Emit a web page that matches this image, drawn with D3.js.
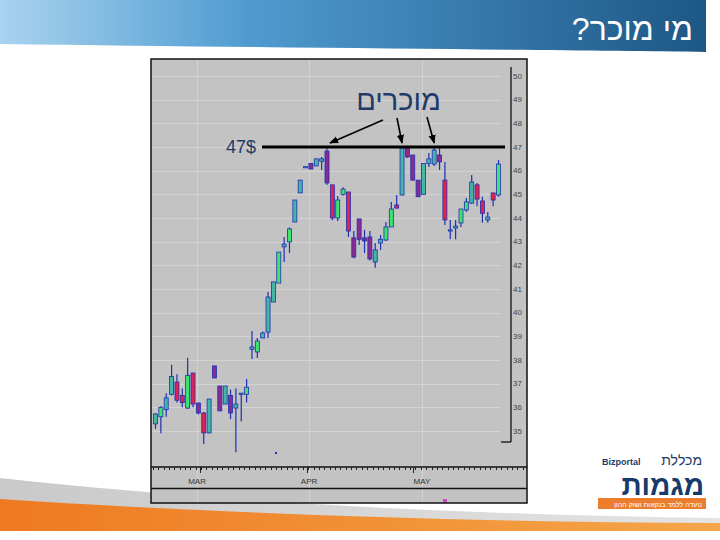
<!DOCTYPE html>
<html><head><meta charset="utf-8">
<script src="https://cdn.jsdelivr.net/npm/d3@7"></script>
<style>body{margin:0;background:#fff;} svg{display:block;font-family:"Liberation Sans",Arial,"DejaVu Sans",sans-serif;}</style>
</head><body><svg id="c" width="720" height="540"></svg>
<script>
// ---- data ----
const opens  = [35.30,35.6,35.9,36.55,37.07,36.5,35.97,37.45,36.18,35.76,34.92,37.75,36.9,36.14,36.5,35.97,36.55,36.55,38.45,38.34,38.93,39.18,40.45,41.25,42.78,42.99,43.83,45.06,46.13,46.3,46.2,46.4,46.83,45.4,44.0,45.0,45.1,43.16,43.96,43.16,43.2,42.14,42.94,43.07,43.62,44.55,44.97,46.96,46.66,45.6,45.0,46.3,46.28,46.66,45.6,43.45,43.58,43.79,44.34,44.63,45.4,44.72,43.92,45.06,44.97];
const closes = [35.72,36.0,36.4,37.3,36.3,36.2,37.35,36.14,35.76,34.92,36.35,37.24,35.85,36.9,35.76,36.14,36.6,36.85,38.55,38.8,39.14,40.66,41.3,42.56,42.9,43.54,44.76,45.6,46.17,46.07,46.5,46.5,45.48,44.0,44.76,45.22,43.45,42.35,43.1,43.03,42.27,42.65,43.1,43.62,44.38,44.42,46.96,46.58,45.6,44.9,46.3,46.5,46.87,46.37,43.92,43.5,43.66,44.38,44.68,45.52,44.8,44.2,44.04,44.76,46.28];
const highs  = [35.75,36.05,36.6,37.8,37.4,36.8,38.1,37.45,36.2,35.8,36.35,37.75,36.9,36.9,36.75,36.8,36.6,37.2,39.23,38.93,39.2,40.87,41.3,42.56,43.2,43.6,44.76,45.6,46.17,46.3,46.5,46.58,47.0,45.4,44.93,45.3,45.1,43.45,43.96,43.5,43.45,42.94,43.28,43.83,44.68,44.97,47.0,47.0,46.66,45.6,46.3,46.75,46.96,46.96,46.37,43.92,43.92,44.38,44.85,45.82,45.48,44.9,44.25,45.06,46.45];
const lows   = [35.09,34.9,35.6,36.5,36.2,36.0,35.93,36.0,35.7,34.45,34.9,37.24,35.85,36.14,35.5,34.1,35.4,36.2,38.04,38.08,38.93,38.93,40.45,41.25,42.14,42.52,43.83,45.06,46.13,46.07,46.2,46.03,45.4,43.9,43.87,44.95,43.2,42.3,42.86,42.52,42.2,41.9,42.65,43.03,43.62,44.4,44.97,46.55,45.6,44.9,45.0,46.15,46.2,46.03,43.7,43.1,43.1,43.62,44.25,44.6,44.5,43.8,43.8,44.5,44.9];
const tones  = ["teal","green","teal","teal","red","red","green","red","purple","red","teal","purple","purple","teal","purple","teal","teal","green","teal","green","teal","teal","teal","green","teal","green","teal","teal","teal","purple","teal","teal","purple","red","green","green","red","purple","purple","purple","purple","teal","teal","green","green","red","teal","purple","purple","purple","teal","teal","teal","purple","red","teal","teal","green","green","teal","red","red","teal","red","green"];
const priceTicks = [35,36,37,38,39,40,41,42,43,44,45,46,47,48,49,50];
const monthLabels = ["MAR","APR","MAY"];
const monthLabelIdx = [7.75,28.65,49.7];
const monthTickIdx = [8.3,28.3,48.0];
const strayPoint = {idx:22.5, price:34.07};
const resistance = 47;
const resistanceLabel = "47$";
const sellersLabel = "מוכרים";
const sellerIdx = [32,46,52];
const title = "מי מוכר?";

// ---- drawing ----
const svg = d3.select("#c");
const defs = svg.append("defs");
const hg = defs.append("linearGradient").attr("id","hg").attr("x1","0").attr("x2","1");
hg.append("stop").attr("offset","0").attr("stop-color","#a9d3ef");
hg.append("stop").attr("offset","0.35").attr("stop-color","#4f9bd0");
hg.append("stop").attr("offset","1").attr("stop-color","#1d5785");
const og = defs.append("linearGradient").attr("id","og").attr("x1","0").attr("x2","1");
og.append("stop").attr("offset","0").attr("stop-color","#ee7a22");
og.append("stop").attr("offset","1").attr("stop-color","#f5a64a");
const gg = defs.append("linearGradient").attr("id","gg").attr("x1","0").attr("x2","1");
gg.append("stop").attr("offset","0").attr("stop-color","#c9c9c9");
gg.append("stop").attr("offset","1").attr("stop-color","#e4e4e4");
defs.append("marker").attr("id","ah").attr("viewBox","0 0 10 10").attr("refX",9).attr("refY",5)
  .attr("markerWidth",9).attr("markerHeight",9).attr("markerUnits","userSpaceOnUse").attr("orient","auto")
  .append("path").attr("d","M0,1 L10,5 L0,9 Z").attr("fill","#000");

// header band
svg.append("path").attr("d","M0,0 H706 V52 C560,50 300,48 0,44 Z").attr("fill","url(#hg)");
svg.append("text").attr("x",693).attr("y",40).attr("text-anchor","start").attr("direction","rtl")
  .attr("font-size",32).attr("fill","#fff").text(title);

// footer swoosh
svg.append("path").attr("d","M0,478 C200,500 450,515 720,518 L720,531 L0,531 Z").attr("fill","url(#gg)");
svg.append("path").attr("d","M0,499 C200,512 450,522 720,523 L720,531 L0,531 Z").attr("fill","url(#og)");

// chart panel
const L=151, T=59, R=527, B=503;
svg.append("rect").attr("x",L).attr("y",T).attr("width",R-L).attr("height",B-T).attr("fill","#c3c3c3");

const x = d3.scaleLinear().domain([0,64]).range([155.5,498.5]);
const y = d3.scaleLinear().domain([35,50]).range([431,76]);

const grid = svg.append("g").attr("stroke","#d3d3d3").attr("stroke-width",1);
priceTicks.forEach(p=>grid.append("line").attr("x1",L).attr("x2",500).attr("y1",Math.round(y(p))+0.5).attr("y2",Math.round(y(p))+0.5));
monthLabelIdx.forEach(i=>grid.append("line").attr("x1",Math.round(x(i))+0.5).attr("x2",Math.round(x(i))+0.5).attr("y1",T).attr("y2",B));

// price axis
const axX = 511;
svg.append("line").attr("x1",axX).attr("x2",axX).attr("y1",67).attr("y2",442).attr("stroke","#111").attr("stroke-width",1.3);
svg.append("line").attr("x1",501).attr("x2",axX).attr("y1",442).attr("y2",442).attr("stroke","#111").attr("stroke-width",1.3);
svg.append("g").selectAll("text").data(priceTicks).join("text")
  .attr("x",513).attr("y",d=>y(d)).attr("dy","0.35em").attr("font-size",8).attr("fill","#444").text(d=>d);

// time axis
svg.append("line").attr("x1",L).attr("x2",R).attr("y1",467).attr("y2",467).attr("stroke","#111").attr("stroke-width",1.3);
svg.append("line").attr("x1",L).attr("x2",R).attr("y1",488.5).attr("y2",488.5).attr("stroke","#111").attr("stroke-width",1.3);
const minor = d3.range(-0.5,69,1);
svg.append("g").selectAll("line").data(minor).join("line")
  .attr("x1",d=>Math.round(x(d))+0.5).attr("x2",d=>Math.round(x(d))+0.5).attr("y1",467).attr("y2",470)
  .attr("stroke","#222").attr("stroke-width",1);
svg.append("g").selectAll("line").data(monthTickIdx).join("line")
  .attr("x1",d=>Math.round(x(d))+0.5).attr("x2",d=>Math.round(x(d))+0.5).attr("y1",467).attr("y2",473)
  .attr("stroke","#222").attr("stroke-width",1);
svg.append("g").selectAll("text").data(monthLabels).join("text")
  .attr("x",(d,i)=>x(monthLabelIdx[i])).attr("y",484).attr("text-anchor","middle")
  .attr("font-size",8).attr("fill","#333").text(d=>d);
svg.append("rect").attr("x",443).attr("y",499).attr("width",4).attr("height",4).attr("fill","#c050c0");

// candles
const fillOf = {teal:"#45b5a6", green:"#3fe46c", red:"#e3214e", purple:"#8b2b8d"};
const wickC = "#1f2fb4";
const cg = svg.append("g");
const idx = d3.range(opens.length);
cg.selectAll("line.w").data(idx).join("line").attr("class","w")
  .attr("x1",i=>x(i)).attr("x2",i=>x(i)).attr("y1",i=>y(highs[i])).attr("y2",i=>y(lows[i]))
  .attr("stroke",wickC).attr("stroke-width",1.2);
cg.selectAll("rect").data(idx).join("rect")
  .attr("x",i=>x(i)-2).attr("width",4)
  .attr("y",i=>y(Math.max(opens[i],closes[i])))
  .attr("height",i=>Math.max(1.2, y(Math.min(opens[i],closes[i]))-y(Math.max(opens[i],closes[i]))))
  .attr("fill",i=>fillOf[tones[i]]).attr("stroke",wickC).attr("stroke-width",0.8);
svg.append("rect").attr("x",x(strayPoint.idx)-1).attr("y",y(strayPoint.price)-1).attr("width",2).attr("height",2).attr("fill",wickC);

// panel border
svg.append("rect").attr("x",L).attr("y",T).attr("width",R-L).attr("height",B-T).attr("fill","none").attr("stroke","#111").attr("stroke-width",1.5);

// resistance line + labels
svg.append("line").attr("x1",262).attr("x2",505).attr("y1",y(resistance)).attr("y2",y(resistance)).attr("stroke","#000").attr("stroke-width",3);
svg.append("text").attr("x",256).attr("y",y(resistance)).attr("dy","0.36em").attr("text-anchor","end")
  .attr("font-size",18).attr("fill","#1f3a6a").attr("direction","ltr").text(resistanceLabel);
svg.append("text").attr("x",441).attr("y",110).attr("text-anchor","start").attr("direction","rtl")
  .attr("font-size",29).attr("fill","#1f3a6a").text(sellersLabel);
const starts = [[383,120],[397,118],[427,117]];
sellerIdx.forEach((i,k)=>{
  svg.append("line").attr("x1",starts[k][0]).attr("y1",starts[k][1])
    .attr("x2",x(i)+(k===0?3:0)).attr("y2",y(resistance)-4)
    .attr("stroke","#000").attr("stroke-width",1.6).attr("marker-end","url(#ah)");
});

// logo
const lg = svg.append("g");
lg.append("text").attr("x",702).attr("y",465).attr("text-anchor","start").attr("direction","rtl").attr("font-size",14).attr("fill","#1f3a6a").text("מכללת");
lg.append("text").attr("x",602).attr("y",465).attr("font-size",9).attr("fill","#1f3a6a").attr("font-weight","bold").text("Bizportal");
lg.append("text").attr("x",704).attr("y",495).attr("text-anchor","start").attr("direction","rtl").attr("font-size",28).attr("font-weight","bold").attr("fill","#163a6b").text("מגמות");
lg.append("rect").attr("x",598).attr("y",498).attr("width",108).attr("height",11).attr("fill","#ec7d2c");
lg.append("text").attr("x",702).attr("y",506.5).attr("text-anchor","start").attr("direction","rtl").attr("font-size",7).attr("fill","#fff").text("נועדה ללמד בנקאות ושוק ההון");
</script></body></html>
